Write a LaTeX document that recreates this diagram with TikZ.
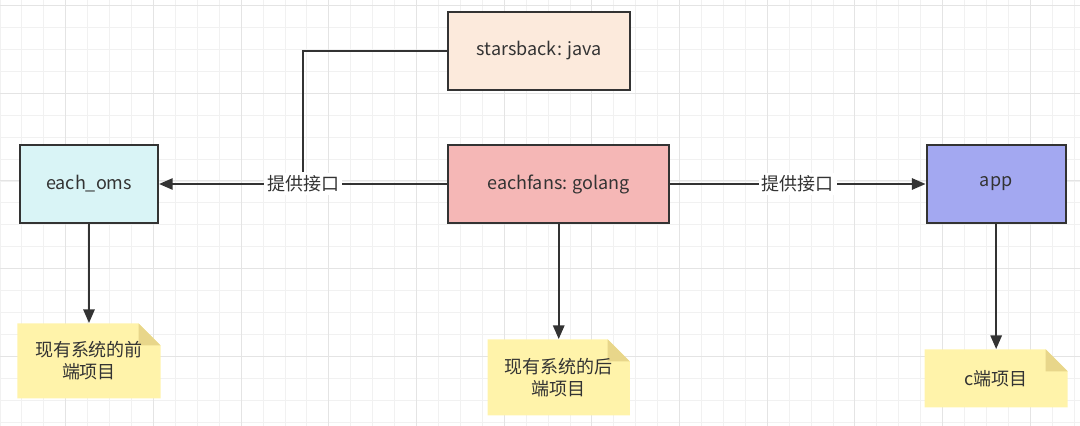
\documentclass[tikz,border=0pt]{standalone}
\usepackage{fontspec}
\setmainfont{Noto Sans CJK SC}
\usetikzlibrary{arrows.meta,positioning}

\definecolor{linec}{HTML}{333333}
\definecolor{omsc}{HTML}{D9F4F6}
\definecolor{sbc}{HTML}{FCEADC}
\definecolor{fansc}{HTML}{F5B7B6}
\definecolor{appc}{HTML}{A3A8F1}
\definecolor{notec}{HTML}{FFF3AA}
\definecolor{foldc}{HTML}{E8D68A}
\definecolor{gridminor}{HTML}{F1F1F1}
\definecolor{gridmajor}{HTML}{E4E4E4}
\newcommand\dfont{\fontsize{12.8pt}{15.6pt}\selectfont}

\begin{document}
\begin{tikzpicture}[x=0.025cm, y=-0.025cm,
  box/.style={draw=linec, line width=1.5pt, minimum width=3.45cm,
              minimum height=1.95cm, font=\dfont, text=linec},
  note/.style={minimum width=3.575cm, minimum height=1.875cm, align=center,
               font=\dfont, text=linec,
               path picture={
                 \fill[notec] (path picture bounding box.south west)
                   -- (path picture bounding box.north west)
                   -- ([xshift=-5.5mm]path picture bounding box.north east)
                   -- ([yshift=-5.5mm]path picture bounding box.north east)
                   -- (path picture bounding box.south east) -- cycle;
                 \fill[foldc] ([xshift=-5.5mm]path picture bounding box.north east)
                   -- ([xshift=-5.5mm,yshift=-5.5mm]path picture bounding box.north east)
                   -- ([yshift=-5.5mm]path picture bounding box.north east) -- cycle;}},
  lbl/.style={fill=white, inner sep=2pt, font=\dfont, text=linec},
  line/.style={draw=linec, line width=1.45pt},
  arr/.style={line, -{Triangle[length=3.4mm,width=2.8mm]}}]
\useasboundingbox (0,0) rectangle (1080,426);
% background grid
\foreach \i in {0,...,49} \draw[gridminor, line width=0.6pt] (\i*21.92,0) -- (\i*21.92,426);
\foreach \j in {0,...,19} \draw[gridminor, line width=0.6pt] (0,5.6+\j*21.92) -- (1080,5.6+\j*21.92);
\foreach \i in {0,...,11} \draw[gridmajor, line width=0.7pt] (65.7+\i*87.68,0) -- (65.7+\i*87.68,426);
\foreach \j in {0,...,4} \draw[gridmajor, line width=0.7pt] (0,5.6+\j*87.68) -- (1080,5.6+\j*87.68);

\node[box, fill=omsc] (oms) at (89,184) {each\_oms};
\node[box, fill=fansc, minimum width=5.525cm, right=7.2cm of oms] (fans) {eachfans: golang};
\node[box, fill=appc, minimum width=3.475cm, right=6.38cm of fans] (app) {app};
\node[box, fill=sbc, minimum width=4.55cm, above=1.325cm of fans.north west,
      anchor=south west] (sb) {starsback: java};
\node[note, below=2.475cm of oms] (n1) {现有系统的前\\端项目};
\node[note, minimum width=3.55cm, minimum height=1.9cm, below=2.875cm of fans] (n2) {现有系统的后\\端项目};
\node[note, minimum height=1.45cm, below=3.125cm of app] (n3) {c端项目};

\foreach \a/\b in {oms/n1,fans/n2,app/n3} \draw[arr] (\a) -- (\b);
\draw[arr] (fans) -- node[lbl] (lab1) {提供接口} (oms);
\draw[arr] (fans) -- node[lbl] (lab2) {提供接口} (app);
\draw[line] (sb.west) -| (lab1.north);
\end{tikzpicture}
\end{document}
